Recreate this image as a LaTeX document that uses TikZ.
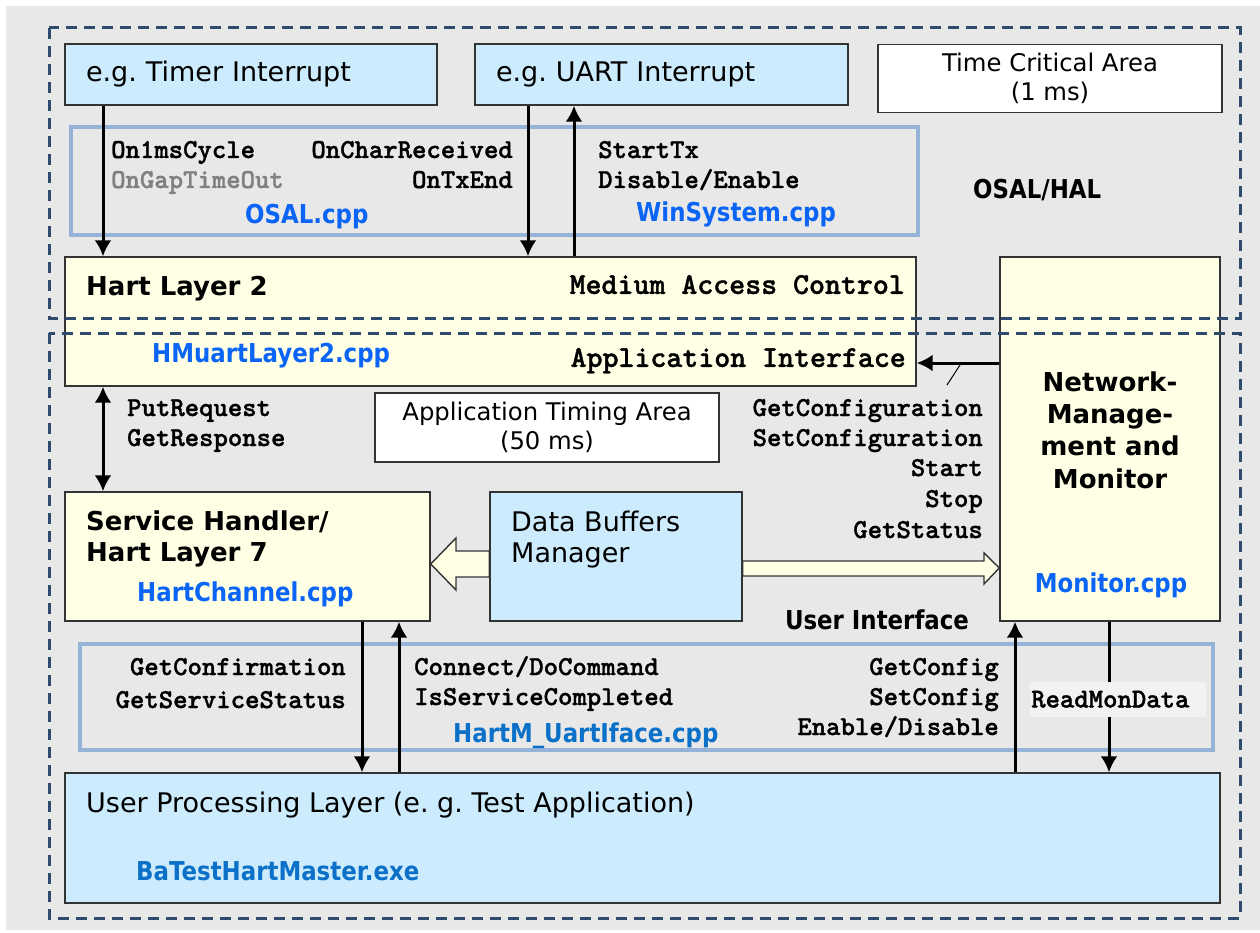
\documentclass[tikz,border=0pt]{standalone}
\usepackage{fontspec}
\setmainfont{DejaVu Sans}
\newfontfamily\codefont[FakeBold=1.2]{lmmonolt10-bold.otf}
\newfontfamily\handfont[FakeStretch=0.88]{DejaVu Sans}
\usetikzlibrary{arrows.meta}
\frenchspacing

\definecolor{bggray}{HTML}{E8E8E8}
\definecolor{areablue}{HTML}{2E4A6C}
\definecolor{irqblue}{HTML}{CCEBFD}
\definecolor{layeryellow}{HTML}{FFFFE5}
\definecolor{ifaceblue}{HTML}{95B3D7}
\definecolor{srcblue}{HTML}{0A64F5}
\definecolor{exeblue}{HTML}{0B70C8}
\definecolor{labelgray}{HTML}{F2F2F2}

\tikzset{%
box/.style={draw=black!80,line width=1.4pt,inner sep=0pt},
irq/.style={box,fill=irqblue},
layer/.style={box,fill=layeryellow},
note/.style={box,fill=white},
iface/.style={draw=ifaceblue,line width=4.5pt,inner sep=0pt},
area/.style={draw=areablue,line width=3pt,dash pattern=on 11pt off 7pt},
sig/.style={-{Latex[length=16pt,width=17pt]},line width=3pt},
bothsig/.style={{Latex[length=16pt,width=17pt]}-{Latex[length=16pt,width=17pt]},line width=3pt},
fatarrow/.style={draw=black!80,line width=1.4pt,fill=layeryellow,line join=miter},
txt/.style={font=\fontsize{27}{31}\selectfont,inner sep=0pt},
smalltxt/.style={font=\fontsize{24.3}{29}\selectfont,inner sep=0pt},
title/.style={font=\bfseries\fontsize{26}{31}\selectfont,inner sep=0pt},
call/.style={font=\codefont\fontsize{27.4}{27.4}\selectfont,inner sep=0pt,text height=16pt,text depth=0pt},
bigcall/.style={call,font=\codefont\fontsize{30.4}{30.4}\selectfont,text height=17.8pt},
src/.style={font=\handfont\bfseries\fontsize{26}{26}\selectfont,text=srcblue,inner sep=0pt,text height=19pt,text depth=0pt},
hand/.style={src,text=black}
}

\begin{document}
\begin{tikzpicture}[x=1pt,y=-1pt]
\useasboundingbox (0,0) rectangle (1260,933);
\fill[bggray] (6,6) rectangle (1260,930);

% interface frames
\node[iface,minimum width=847pt,minimum height=108pt] (osal) at (494.5,181) {};
\node[iface,minimum width=1133pt,minimum height=106pt] (uif) at (646.5,697) {};

% boxes
\node[irq,txt,minimum width=372pt,minimum height=61pt,text width=330pt,align=left] (timer) at (251,74.5) {e.g. Timer Interrupt};
\node[irq,txt,minimum width=373pt,minimum height=61pt,text width=331pt,align=left] (uart) at (661.5,74.5) {e.g. UART Interrupt};
\node[note,smalltxt,minimum width=344pt,minimum height=68pt,align=center] (tca) at (1050,78.5) {Time Critical Area\\(1 ms)};
\node[layer,minimum width=851pt,minimum height=129pt] (hart2) at (490.5,321.5) {};
\node[layer,minimum width=220pt,minimum height=364pt] (net) at (1110,439) {};
\node[note,smalltxt,minimum width=344pt,minimum height=69pt,align=center] (ata) at (547,427.5) {Application Timing Area\\(50 ms)};
\node[layer,minimum width=365pt,minimum height=129pt] (svc) at (247.5,556.5) {};
\node[irq,minimum width=252pt,minimum height=129pt] (dbm) at (616,556.5) {};
\node[irq,minimum width=1155pt,minimum height=130pt] (user) at (642.5,838) {};

% dashed areas
\draw[area] (49,28) rectangle (1240,318);
\draw[area] (49,333) rectangle (1240,918);

% box texts
\node[title,anchor=west,text height=19pt,text depth=0pt] (hl2) at (86,286) {Hart Layer 2};
\node[bigcall,anchor=east] (mac) at (905,285) {Medium Access Control};
\node[src,anchor=west] (hmu) at (152,353) {HMuartLayer2.cpp};
\node[bigcall,anchor=east] (api) at (906,358) {Application Interface};
\node[title,anchor=west,align=left] (hl7) at (86,539) {Service Handler/\\Hart Layer 7};
\node[src,anchor=west] (hch) at (137,592) {HartChannel.cpp};
\node[txt,anchor=west,align=left] (dbmt) at (511,539.5) {Data Buffers\\Manager};
\node[title,align=center,font=\bfseries\fontsize{26}{32.3}\selectfont] (nmm) at (1110,430) {Network-\\Manage-\\ment and\\Monitor};
\node[src] (mon) at (1111,583) {Monitor.cpp};
\node[txt,anchor=west,text height=19.7pt,text depth=0pt] (upl) at (86,803) {User Processing Layer (e. g. Test Application)};
\node[src,text=exeblue,anchor=west] (exe) at (136,871) {BaTestHartMaster.exe};
\node[src,text=exeblue,anchor=west] (uifc) at (453,733) {HartM\_UartIface.cpp};
\node[src,anchor=west] (osalc) at (245,214) {OSAL.cpp};
\node[src,anchor=west] (winc) at (636,212) {WinSystem.cpp};
\node[hand,anchor=west] (hal) at (973,189) {OSAL/HAL};
\node[hand] (ui) at (877,620) {User Interface};

% signals
\draw[sig] (timer.south -| 103,0) -- (hart2.north -| 103,0);
\draw[sig] (uart.south -| 528,0) -- (hart2.north -| 528,0);
\draw[sig] (hart2.north -| 574,0) -- (uart.south -| 574,0);
\draw[sig] (net.west |- 0,363) -- (hart2.east |- 0,363);
\draw[sig] (svc.south -| 362,0) -- (user.north -| 362,0);
\draw[sig] (user.north -| 399,0) -- (svc.south -| 399,0);
\draw[sig] (user.north -| 1015,0) -- (net.south -| 1015,0);
\draw[sig] (net.south -| 1109,0) -- (user.north -| 1109,0);
\draw[bothsig] (hart2.south -| 103,0) -- (svc.north -| 103,0);
\draw[line width=1pt] (960,365) -- (947,385);

% data buffer flows
\draw[fatarrow] (dbm.west |- 0,551) -- (456,551) -- (456,538) -- (svc.east |- 0,564)
                -- (456,590) -- (456,577) -- (dbm.west |- 0,577) -- cycle;
\draw[fatarrow] (dbm.east |- 0,561) -- (984,561) -- (984,553) -- (net.west |- 0,568)
                -- (984,584) -- (984,576) -- (dbm.east |- 0,576) -- cycle;

% calls
\node[call,anchor=west] (cyc) at (111,150) {On1msCycle};
\node[call,anchor=west,text=black!50] (gap) at (111,180) {OnGapTimeOut};
\node[call,anchor=east] (rcv) at (513,150) {OnCharReceived};
\node[call,anchor=east] (txe) at (513,180) {OnTxEnd};
\node[call,anchor=west] (stx) at (598,150) {StartTx};
\node[call,anchor=west] (dis) at (598,180) {Disable/Enable};
\node[call,anchor=west] (put) at (127,408) {PutRequest};
\node[call,anchor=west] (rsp) at (127,438) {GetResponse};
\node[call,anchor=east] (gcf) at (983,408) {GetConfiguration};
\node[call,anchor=east] (scf) at (983,438) {SetConfiguration};
\node[call,anchor=east] (sta) at (983,468) {Start};
\node[call,anchor=east] (sto) at (983,499) {Stop};
\node[call,anchor=east] (gst) at (983,530) {GetStatus};
\node[call,anchor=east] (cnf) at (346,667) {GetConfirmation};
\node[call,anchor=east] (gss) at (346,700) {GetServiceStatus};
\node[call,anchor=west] (cmd) at (414,667) {Connect/DoCommand};
\node[call,anchor=west] (isc) at (414,697) {IsServiceCompleted};
\node[call,anchor=east] (gc) at (999,667) {GetConfig};
\node[call,anchor=east] (sc) at (999,697) {SetConfig};
\node[call,anchor=east] (end) at (999,727) {Enable/Disable};
\node[call,fill=labelgray,anchor=west,text width=174pt,minimum height=35pt,inner xsep=1pt,align=left] (rmd) at (1030,699.5) {ReadMonData};
\end{tikzpicture}
\end{document}
